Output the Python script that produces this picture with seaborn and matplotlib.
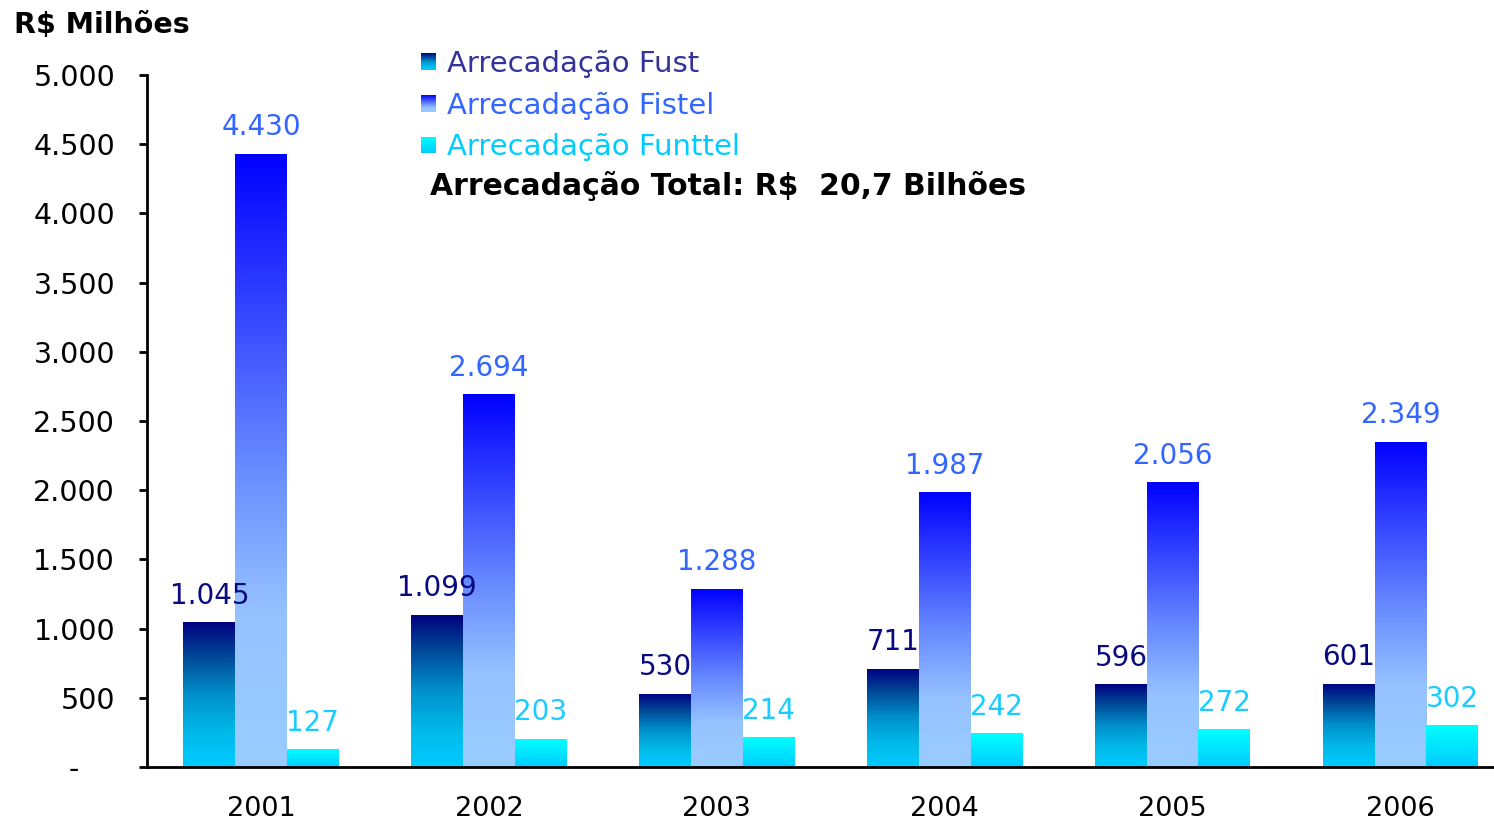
import numpy as np
import pandas as pd
import matplotlib
matplotlib.use("Agg")
import matplotlib.pyplot as plt
import seaborn as sns
from matplotlib.colors import LinearSegmentedColormap
from matplotlib.patches import Patch

# data (R$ milhões)
anos = ["2001", "2002", "2003", "2004", "2005", "2006"]
fust = [1045, 1099, 530, 711, 596, 601]
fistel = [4430, 2694, 1288, 1987, 2056, 2349]
funttel = [127, 203, 214, 242, 272, 302]
series = ["Arrecadação Fust", "Arrecadação Fistel", "Arrecadação Funttel"]
y_ticks = [0, 500, 1000, 1500, 2000, 2500, 3000, 3500, 4000, 4500, 5000]

# gradient stops (bottom -> top) per series, label colours
gradients = [
    [(0.0, "#00CCFF"), (0.25, "#00B8E8"), (0.5, "#0090CC"), (0.75, "#004C99"), (1.0, "#000080")],
    [(0.0, "#99CCFF"), (0.25, "#96C2FF"), (0.5, "#6688FF"), (0.8, "#2A36FF"), (1.0, "#0000FF")],
    [(0.0, "#00CCFF"), (1.0, "#00FFFF")],
]
label_colors = ["#0A0A80", "#3366FF", "#1ACCFF"]
legend_colors = ["#333399", "#3366FF", "#00CCFF"]

df = pd.DataFrame({
    "Ano": anos * 3,
    "Valor": fust + fistel + funttel,
    "Serie": np.repeat(series, len(anos)),
})

sns.set_style("white")
plt.rcParams["font.family"] = ["DejaVu Sans"]
plt.rcParams["text.color"] = "black"
plt.rcParams["xtick.color"] = "black"
plt.rcParams["ytick.color"] = "black"

fig = plt.figure(figsize=(14.94, 8.21), dpi=100)
ax = fig.add_axes([0.0984, 0.0658, 0.9016, 0.8429])

cmaps = [LinearSegmentedColormap.from_list(f"g{i}", g) for i, g in enumerate(gradients)]
mid_colors = [c(0.5) for c in cmaps]

sns.barplot(data=df, x="Ano", y="Valor", hue="Serie", palette=mid_colors,
            width=0.68, saturation=1, ax=ax, legend=False, linewidth=0)

# vertical gradient inside every bar, plus value labels
grad = np.linspace(0, 1, 256).reshape(-1, 1)
for i, cont in enumerate(ax.containers):
    for bar in cont:
        x0, y0 = bar.get_x(), bar.get_y()
        x1, y1 = x0 + bar.get_width(), y0 + bar.get_height()
        im = ax.imshow(grad, extent=(x0, x1, y0, y1), origin="lower", cmap=cmaps[i],
                       aspect="auto", zorder=bar.get_zorder() + 0.1)
        im.set_clip_path(bar)
        ax.annotate(f"{int(bar.get_height()):,}".replace(",", "."),
                    xy=(x0 + bar.get_width() / 2, y1), xytext=(0, 19),
                    textcoords="offset points", ha="center", va="center",
                    fontsize=20, color=label_colors[i])

ax.set_xlim(-0.5, 5.41)
ax.set_ylim(0, 5000)
ax.set_yticks(y_ticks)
ax.set_yticklabels(["-    "] + [f"{v:,}".replace(",", ".") for v in y_ticks[1:]])
ax.set_xlabel("")
ax.set_ylabel("")
ax.tick_params(axis="y", direction="out", length=6, width=2, labelsize=20.5, pad=17, left=True)
ax.tick_params(axis="x", length=0, labelsize=19.5, pad=21)
for s in ["top", "right"]:
    ax.spines[s].set_visible(False)
for s in ["left", "bottom"]:
    ax.spines[s].set_linewidth(2)
    ax.spines[s].set_color("black")

handles = [Patch(facecolor=mid_colors[i], edgecolor="none") for i in range(3)]
leg = fig.legend(handles=handles, labels=series, loc="upper left",
                 bbox_to_anchor=(0.264, 0.971), frameon=False, fontsize=21,
                 handlelength=0.5, handleheight=0.5, handletextpad=0.4,
                 labelspacing=0.47, labelcolor=legend_colors)

fig.text(430 / 1494, 1 - 186 / 821, "Arrecadação Total: R$  20,7 Bilhões",
         fontsize=21.5, fontweight="bold", ha="left", va="center")
fig.text(14 / 1494, 1 - 25 / 821, "R$ Milhões", fontsize=20.5, fontweight="bold",
         ha="left", va="center")

# gradient squares on top of the legend handles
fig.canvas.draw()
for i, h in enumerate(leg.get_patches()):
    bb = h.get_window_extent().transformed(fig.transFigure.inverted())
    lax = fig.add_axes([bb.x0, bb.y0, bb.width, bb.height])
    lax.set_zorder(10)
    lax.imshow(grad, origin="lower", cmap=cmaps[i], aspect="auto")
    lax.axis("off")

fig.savefig("out.png", dpi=100)
